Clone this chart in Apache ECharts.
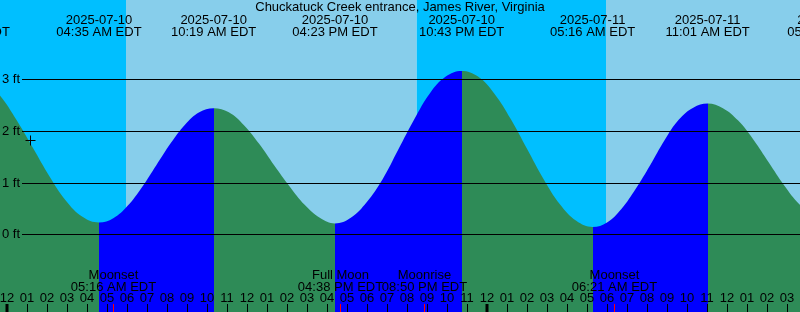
<!DOCTYPE html>
<html><head><meta charset="utf-8">
<script src="https://cdn.jsdelivr.net/npm/echarts@6/dist/echarts.min.js"></script>
<style>html,body{margin:0;padding:0;background:#fff}#c{width:800px;height:312px}</style>
</head><body><div id="c"></div>
<script>
// ---- data (time = hours since 2025-07-10 00:00 EDT) ----
const chartTitle = 'Chuckatuck Creek entrance, James River, Virginia';
const tideTimes = [-2.0,-1.179,-0.358,0.462,1.292,2.113,2.933,3.758,
  4.583,5.300,6.017,6.733,7.450,8.167,8.884,9.600,
  10.317,11.075,11.834,12.592,13.350,14.108,14.867,15.625,
  16.383,17.175,17.967,18.758,19.550,20.342,21.133,21.925,
  22.717,23.536,24.355,25.173,25.992,26.811,27.630,28.448,
  29.267,29.986,30.705,31.423,32.142,32.861,33.580,34.298,
  35.017,35.781,36.545,37.309,38.074,38.838,39.602,40.366,41.13];
const tideHeights = [3.10,2.99,2.68,2.21,1.665,1.12,0.65,0.34,
  0.23,0.31,0.55,0.91,1.335,1.76,2.12,2.36,
  2.44,2.36,2.11,1.75,1.33,0.93,0.57,0.32,
  0.21,0.32,0.62,1.06,1.64,2.22,2.73,3.05,
  3.16,3.05,2.72,2.23,1.65,1.07,0.58,0.26,
  0.14,0.23,0.49,0.88,1.335,1.82,2.22,2.45,
  2.53,2.44,2.20,1.83,1.39,0.95,0.58,0.33,0.25];
const extremaTimes = [-2.0,4.583,10.317,16.383,22.717,29.267,35.017,41.13];
const extremaKinds = ['high','low','high','low','high','low','high','low'];
const extremaDates = ['2025-07-09','2025-07-10','2025-07-10','2025-07-10','2025-07-10','2025-07-11','2025-07-11','2025-07-11'];
const extremaClock = ['10:00 PM EDT','04:35 AM EDT','10:19 AM EDT','04:23 PM EDT','10:43 PM EDT','05:16 AM EDT','11:01 AM EDT','05:08 PM EDT'];
const sunriseTimes = [5.935, 29.935];
const sunsetTimes = [20.47];
const moonTimes = [5.267, 16.633, 20.833, 30.35];
const moonNames = ['Moonset','Full Moon','Moonrise','Moonset'];
const moonClock = ['05:16 AM EDT','04:38 PM EDT','08:50 PM EDT','06:21 AM EDT'];
const heightLevels = [0,1,2,3];
const heightLabels = ['0 ft','1 ft','2 ft','3 ft'];
const hourTicks = [0,1,2,3,4,5,6,7,8,9,10,11,12,13,14,15,16,17,18,19,20,21,22,23,24,25,26,27,28,29,30,31,32,33,34,35,36,37,38,39];
const hourLabels = ['12','01','02','03','04','05','06','07','08','09','10','11','12','01','02','03','04','05','06','07','08','09','10','11','12','01','02','03','04','05','06','07','08','09','10','11','12','01','02','03'];
const nowTime = 1.135;
const nowHeight = 1.83;

// ---- layout / style ----
const X_MIN = -0.365, X_MAX = 39.635, Y_MIN = -1.503, Y_MAX = 4.532;
const FF = '"Liberation Sans"';
const FONT = '13px ' + FF;
const C = {day:'#87CEEB', night:'#00BFFF', flood:'#0000FF', ebb:'#2E8B57', text:'#000000', moon:'#FF0000'};

// sky bands from sunrise / sunset
const skyEvents = sunriseTimes.map(t => [t, 1]).concat(sunsetTimes.map(t => [t, 0])).sort((a, b) => a[0] - b[0]);
const skyBands = [];
let bStart = X_MIN, bState = skyEvents[0][1] === 1 ? 0 : 1;
skyEvents.forEach(([t, s]) => { skyBands.push([bStart, t, bState]); bStart = t; bState = s; });
skyBands.push([bStart, X_MAX, bState]);

// flood / ebb pieces
const pieces = [];
for (let i = 0; i <= extremaTimes.length; i++) {
  let kind;
  if (i === 0) kind = extremaKinds[0] === 'high' ? 'flood' : 'ebb';
  else kind = extremaKinds[i - 1] === 'low' ? 'flood' : 'ebb';
  const p = {color: kind === 'flood' ? C.flood : C.ebb};
  if (i > 0) p.gte = extremaTimes[i - 1];
  if (i < extremaTimes.length) p.lt = extremaTimes[i];
  pieces.push(p);
}

function txt(text, x, y, align) {
  return {type: 'text', style: {text: text, x: x, y: y, fill: C.text, font: FONT,
    textAlign: align || 'center', textVerticalAlign: 'middle', align: align || 'center', verticalAlign: 'middle'}};
}

const chart = echarts.init(document.getElementById('c'), null, {renderer: 'canvas', width: 800, height: 312});
chart.setOption({
  animation: false,
  backgroundColor: '#ffffff',
  title: {text: chartTitle, left: 'center', top: 1, padding: 0,
    textStyle: {fontSize: 13, fontWeight: 'normal', color: C.text, fontFamily: FF}},
  grid: {left: 0, right: 0, top: 0, bottom: 0},
  xAxis: {type: 'value', min: X_MIN, max: X_MAX, show: false},
  yAxis: {type: 'value', min: Y_MIN, max: Y_MAX, show: false},
  visualMap: {type: 'piecewise', show: false, dimension: 0, seriesIndex: 1, pieces: pieces},
  series: [
    {type: 'custom', z: 1, silent: true, data: skyBands,
      renderItem: (params, api) => {
        const x1 = api.coord([api.value(0), 0])[0];
        const x2 = api.coord([api.value(1), 0])[0];
        const cs = params.coordSys;
        return {type: 'rect', shape: {x: x1, y: cs.y, width: x2 - x1, height: cs.height},
          style: {fill: api.value(2) === 1 ? C.day : C.night}};
      }},
    {type: 'line', z: 2, silent: true, smooth: 0.4, symbol: 'none',
      data: tideTimes.map((t, i) => [t, tideHeights[i]]),
      lineStyle: {width: 0}, areaStyle: {opacity: 1, origin: 'start'}},
    {type: 'custom', z: 3, silent: true, data: heightLevels.map((v, i) => [X_MIN, v, i]),
      renderItem: (params, api) => {
        const cs = params.coordSys;
        const y = Math.round(api.coord([X_MIN, api.value(1)])[1]) + 0.5;
        return {type: 'group', children: [
          {type: 'line', shape: {x1: cs.x + 22, y1: y, x2: cs.x + cs.width, y2: y}, style: {stroke: '#000', lineWidth: 1}},
          txt(heightLabels[params.dataIndex], cs.x + 2, y, 'left')
        ]};
      }},
    {type: 'custom', z: 4, silent: true, data: [[nowTime, nowHeight]],
      renderItem: (params, api) => {
        const p = api.coord([api.value(0), api.value(1)]);
        const x = Math.round(p[0]) + 0.5, y = Math.round(p[1]) + 0.5;
        return {type: 'group', children: [
          {type: 'line', shape: {x1: x - 5, y1: y, x2: x + 5, y2: y}, style: {stroke: '#000', lineWidth: 1}},
          {type: 'line', shape: {x1: x, y1: y - 5, x2: x, y2: y + 5}, style: {stroke: '#000', lineWidth: 1}}
        ]};
      }},
    {type: 'custom', z: 5, silent: true, data: extremaTimes.map((t, i) => [t, 0, i]),
      renderItem: (params, api) => {
        const x = api.coord([api.value(0), 0])[0];
        const i = params.dataIndex;
        return {type: 'group', children: [txt(extremaDates[i], x, 20), txt(extremaClock[i], x, 32)]};
      }},
    {type: 'custom', z: 5, silent: true, data: hourTicks.map((h, i) => [h, 0, i]),
      renderItem: (params, api) => {
        const h = api.value(0);
        const x = Math.round(api.coord([h, 0])[0]);
        const midnight = (h % 24) === 0;
        return {type: 'group', children: [
          {type: 'line', shape: {x1: x + (midnight ? 0 : 0.5), y1: 304, x2: x + (midnight ? 0 : 0.5), y2: 312},
            style: {stroke: '#000', lineWidth: midnight ? 3 : 1}},
          txt(hourLabels[params.dataIndex], x, 298)
        ]};
      }},
    {type: 'custom', z: 6, silent: true, data: moonTimes.map((t, i) => [t, 0, i]),
      renderItem: (params, api) => {
        const x = Math.round(api.coord([api.value(0), 0])[0]) + 0.5;
        const i = params.dataIndex;
        return {type: 'group', children: [
          {type: 'line', shape: {x1: x, y1: 304, x2: x, y2: 312}, style: {stroke: C.moon, lineWidth: 1}},
          txt(moonNames[i], x, 275),
          txt(moonClock[i], x, 287)
        ]};
      }}
  ]
});
</script>
</body></html>
